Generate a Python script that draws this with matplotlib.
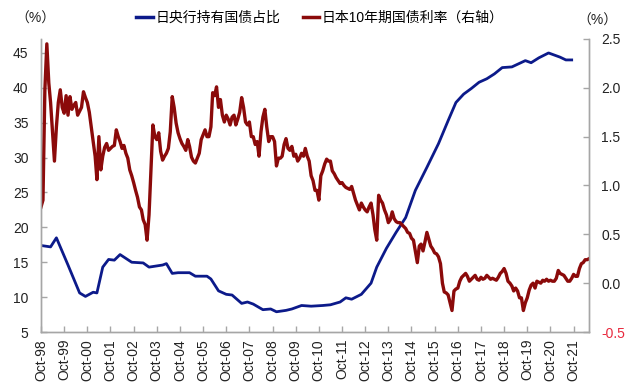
import pandas as pd
import matplotlib
matplotlib.use('Agg')
import matplotlib.pyplot as plt
import matplotlib.dates as mdates
from matplotlib.lines import Line2D
from matplotlib.ticker import FormatStrFormatter

plt.rcParams['font.family'] = ['Liberation Sans', 'Noto Sans CJK SC', 'DejaVu Sans']

# BOJ share of JGB holdings (%), left axis
boj_dates = ['1998-10', '1999-03', '1999-06', '1999-12', '2000-06', '2000-09', '2001-01',
             '2001-03', '2001-06', '2001-09', '2001-12', '2002-03', '2002-09', '2003-03',
             '2003-06', '2004-01', '2004-03', '2004-06', '2004-09', '2005-03', '2005-06',
             '2005-12', '2006-02', '2006-06', '2006-10', '2007-01', '2007-06', '2007-09',
             '2007-12', '2008-05', '2008-09', '2008-12', '2009-05', '2009-08', '2010-01',
             '2010-06', '2010-12', '2011-04', '2011-09', '2011-12', '2012-03', '2012-08',
             '2013-01', '2013-04', '2013-09', '2014-02', '2014-07', '2014-12', '2015-06',
             '2015-12', '2016-05', '2016-09', '2017-01', '2017-05', '2017-09', '2018-01',
             '2018-05', '2018-09', '2019-02', '2019-09', '2019-12', '2020-04', '2020-09',
             '2021-03', '2021-06', '2021-09']
boj_share = [17.4, 17.2, 18.5, 14.6, 10.6, 10.1, 10.7,
             10.6, 14.3, 15.4, 15.3, 16.1, 15.0, 14.9,
             14.3, 14.6, 14.8, 13.4, 13.5, 13.5, 13.0,
             13.0, 12.6, 10.9, 10.4, 10.3, 9.1, 9.3,
             9.0, 8.2, 8.3, 7.9, 8.1, 8.3, 8.8,
             8.7, 8.8, 8.9, 9.3, 9.9, 9.7, 10.4,
             12.0, 14.3, 17.0, 19.3, 21.4, 25.3, 28.6,
             32.0, 35.3, 37.9, 39.1, 39.9, 40.8, 41.3,
             42.0, 42.9, 43.0, 43.9, 43.6, 44.3, 45.0,
             44.4, 44.0, 44.0]

# JGB 10y yield (%), monthly from Oct-1998, right axis
jgb_start = '1998-10-01'
jgb_10y = [
    0.78, 0.85, 1.98,                                                   # 1998 Oct-Dec
    2.45, 2.05, 1.85, 1.55, 1.25, 1.60, 1.85, 1.98, 1.80, 1.74, 1.92, 1.72,  # 1999
    1.91, 1.78, 1.82, 1.85, 1.72, 1.76, 1.80, 1.96, 1.90, 1.85, 1.75, 1.60,  # 2000
    1.45, 1.30, 1.06, 1.50, 1.16, 1.30, 1.39, 1.43, 1.36, 1.38, 1.40, 1.41,  # 2001
    1.57, 1.50, 1.45, 1.38, 1.41, 1.33, 1.28, 1.16, 1.10, 1.03, 0.95, 0.88,  # 2002
    0.78, 0.75, 0.65, 0.60, 0.44, 0.70, 1.16, 1.62, 1.50, 1.47, 1.54, 1.35,  # 2003
    1.26, 1.30, 1.33, 1.38, 1.55, 1.91, 1.80, 1.64, 1.54, 1.48, 1.43, 1.40,  # 2004
    1.36, 1.47, 1.40, 1.29, 1.25, 1.23, 1.28, 1.33, 1.47, 1.52, 1.57, 1.50,  # 2005
    1.50, 1.60, 1.95, 1.92, 2.01, 1.80, 1.88, 1.72, 1.65, 1.72, 1.68, 1.62,  # 2006
    1.70, 1.72, 1.62, 1.68, 1.75, 1.90, 1.80, 1.65, 1.62, 1.65, 1.50, 1.50,  # 2007
    1.42, 1.45, 1.30, 1.55, 1.70, 1.78, 1.60, 1.45, 1.50, 1.50, 1.45, 1.20,  # 2008
    1.28, 1.28, 1.30, 1.42, 1.48, 1.38, 1.36, 1.40, 1.30, 1.32, 1.25, 1.28,  # 2009
    1.33, 1.30, 1.38, 1.30, 1.25, 1.10, 1.05, 0.95, 0.95, 0.85, 1.10, 1.15,  # 2010
    1.22, 1.27, 1.25, 1.25, 1.15, 1.12, 1.08, 1.05, 1.02, 1.03, 1.00, 0.98,  # 2011
    0.97, 0.96, 0.99, 0.92, 0.85, 0.80, 0.75, 0.82, 0.78, 0.75, 0.73, 0.78,  # 2012
    0.82, 0.70, 0.55, 0.44, 0.90, 0.85, 0.82, 0.75, 0.70, 0.62, 0.65, 0.73,  # 2013
    0.66, 0.63, 0.62, 0.62, 0.60, 0.58, 0.56, 0.52, 0.51, 0.46, 0.44, 0.33,  # 2014
    0.21, 0.38, 0.40, 0.33, 0.42, 0.52, 0.45, 0.38, 0.35, 0.31, 0.30, 0.27,  # 2015
    0.20, 0.00, -0.09, -0.10, -0.12, -0.20, -0.28, -0.08, -0.06, -0.05, 0.02, 0.06,  # 2016
    0.08, 0.10, 0.07, 0.02, 0.04, 0.06, 0.08, 0.04, 0.03, 0.06, 0.04, 0.05,  # 2017
    0.08, 0.06, 0.04, 0.05, 0.04, 0.03, 0.06, 0.10, 0.12, 0.15, 0.10, 0.02,  # 2018
    0.00, -0.03, -0.08, -0.05, -0.08, -0.15, -0.15, -0.28, -0.20, -0.15, -0.07, -0.02,  # 2019
    0.00, -0.05, 0.02, 0.01, 0.00, 0.03, 0.02, 0.04, 0.02, 0.03, 0.02, 0.02,  # 2020
    0.05, 0.13, 0.10, 0.09, 0.08, 0.05, 0.02, 0.02, 0.05, 0.09, 0.07, 0.07,  # 2021
    0.15, 0.20, 0.21, 0.24, 0.24, 0.25,                                 # 2022 Jan-Jun
]

label_boj = '日央行持有国债占比'
label_jgb = '日本10年期国债利率（右轴）'

blue = '#0c1a8a'
red = '#8b0a0a'
axis_grey = '#a6a6a6'

boj_x = pd.to_datetime(boj_dates)
jgb_x = pd.date_range(jgb_start, periods=len(jgb_10y), freq='MS')

fig = plt.figure(figsize=(6.4, 3.9), dpi=100)
ax = fig.add_axes([41 / 640, 1 - 332 / 390, 548 / 640, 293 / 390])
ax2 = ax.twinx()

ax.plot(boj_x, boj_share, color=blue, lw=2.0, solid_joinstyle='round')
ax2.plot(jgb_x, jgb_10y, color=red, lw=2.4, solid_joinstyle='round')

ax.set_xlim(pd.Timestamp('1998-10-01'), pd.Timestamp('2022-06-01'))
ax.set_ylim(5, 47)
ax2.set_ylim(-0.5, 2.5)
ax.set_yticks(range(5, 50, 5))
ax2.set_yticks([-0.5, 0, 0.5, 1.0, 1.5, 2.0, 2.5])
ax2.yaxis.set_major_formatter(FormatStrFormatter('%.1f'))

ax.set_xticks(pd.to_datetime([f'{y}-10-01' for y in range(1998, 2022)]))
ax.xaxis.set_major_formatter(mdates.DateFormatter('Oct-%y'))
for lab in ax.get_xticklabels():
    lab.set_rotation(90)

for a in (ax, ax2):
    a.spines['top'].set_visible(False)
    for s in ('left', 'right', 'bottom'):
        a.spines[s].set_color(axis_grey)
        a.spines[s].set_linewidth(1.0)
ax.tick_params(axis='both', direction='in', length=4, width=1, color=axis_grey,
               labelsize=10, labelcolor='#222222')
ax.tick_params(axis='y', pad=9)
ax.tick_params(axis='x', pad=5)
ax2.tick_params(axis='y', direction='in', length=4, width=1, color=axis_grey,
                labelsize=10, labelcolor='#222222', pad=9)
ax2.get_yticklabels()[0].set_color('#e8283c')

fig.text(35 / 640, 1 - 19 / 390, '（%）', ha='center', va='center', fontsize=10, color='#222222')
fig.text(597 / 640, 1 - 21 / 390, '（%）', ha='center', va='center', fontsize=10, color='#222222')

handles = [Line2D([], [], color=blue, lw=2.5), Line2D([], [], color=red, lw=2.5)]
fig.legend(handles, [label_boj, label_jgb], loc='center', bbox_to_anchor=(320 / 640, 1 - 18 / 390),
           ncol=2, frameon=False, fontsize=10, handlelength=1.2, handletextpad=0.2,
           columnspacing=1.6)

fig.savefig('out.png', dpi=100)
